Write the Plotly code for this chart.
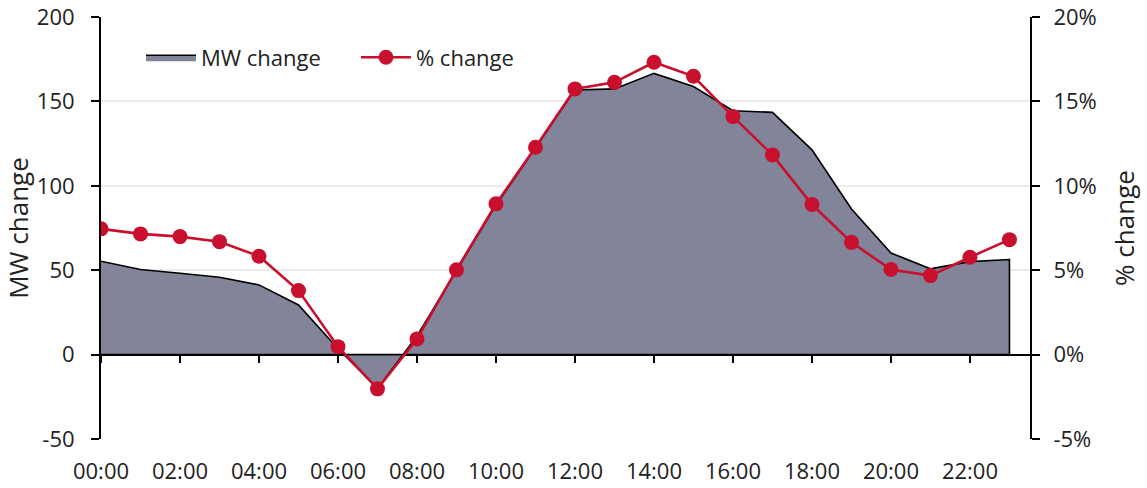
import plotly.graph_objects as go

# Hourly profile: change in demand (MW) and relative change (%)
hours = list(range(24))
hour_labels = [f"{h:02d}:00" for h in hours]
mw_change = [55.3, 50.4, 48.2, 45.8, 41.3, 29.4, 3.5, -20.0, 11.0, 49.5, 88.5, 122.5,
             156.8, 157.4, 166.6, 158.8, 144.5, 143.5, 121.3, 86.3, 60.2, 50.8, 55.1, 56.3]
pct_change = [7.45, 7.15, 6.99, 6.69, 5.83, 3.79, 0.47, -2.03, 0.93, 5.02, 8.93, 12.28,
              15.74, 16.13, 17.32, 16.49, 14.1, 11.83, 8.89, 6.65, 5.04, 4.68, 5.77, 6.81]
mw_ticks = [-50, 0, 50, 100, 150, 200]
mw_ticktext = ["-50", "0", "50", "100", "150", "200"]
pct_ticks = [-0.05, 0, 0.05, 0.1, 0.15, 0.2]
pct_ticktext = ["-5%", "0%", "5%", "10%", "15%", "20%"]

FONT = "Open Sans"
FSIZE = 22
TXT = "#222222"
AREA = "#82849A"
RED = "#C8102E"

# closed outline for the area so the right edge is stroked too
area_x = hours + [hours[-1], hours[0]]
area_y = mw_change + [0, 0]

fig = go.Figure()
fig.add_trace(go.Scatter(
    x=area_x, y=area_y, name="MW change", mode="lines",
    fill="toself", fillcolor=AREA,
    line=dict(color="black", width=1.6), hoverinfo="skip",
))
fig.add_trace(go.Scatter(
    x=hours, y=[p / 100 for p in pct_change], name="% change", yaxis="y2",
    mode="lines+markers",
    line=dict(color=RED, width=2.6),
    marker=dict(color=RED, size=15),
))
# carrier for the tick marks sitting on the zero line
fig.add_trace(go.Scatter(x=[0], y=[0], xaxis="x2", mode="markers",
                         marker=dict(opacity=0), showlegend=False, hoverinfo="skip"))

xrange = [0, 23.52]
fig.update_layout(
    width=1147, height=488,
    margin=dict(l=101, r=117, t=17, b=49, autoexpand=False),
    paper_bgcolor="white", plot_bgcolor="white",
    font=dict(family=FONT, size=FSIZE, color=TXT),
    showlegend=True,
    legend=dict(orientation="h", x=0.043, y=0.954, xanchor="left", yanchor="top",
                bgcolor="rgba(0,0,0,0)", font=dict(size=FSIZE, color=TXT),
                itemwidth=50, entrywidth=150, tracegroupgap=0),
    xaxis=dict(
        range=xrange, tickmode="array", tickvals=hours[::2], ticktext=hour_labels[::2],
        showgrid=False, zeroline=False, showline=False, automargin=False,
        ticks="outside", ticklen=13, tickcolor="rgba(0,0,0,0)",
    ),
    xaxis2=dict(
        range=xrange, overlaying="x", anchor="free", position=0.2, side="bottom",
        tickmode="array", tickvals=hours[::2], showticklabels=False,
        ticks="outside", ticklen=7, tickwidth=1.5, tickcolor="black",
        showgrid=False, zeroline=False, showline=False,
    ),
    yaxis=dict(
        range=[-50, 200], tickmode="array", tickvals=mw_ticks, ticktext=mw_ticktext,
        showgrid=True, gridcolor="#EBEBEB", gridwidth=1.5,
        zeroline=True, zerolinecolor="black", zerolinewidth=2,
        showline=True, linecolor="black", linewidth=2, automargin=True,
        ticks="outside", ticklen=8, tickwidth=2, tickcolor="black",
        ticklabelstandoff=12,
        title=dict(text="MW change", standoff=8),
    ),
    yaxis2=dict(
        range=[-0.05, 0.2], tickmode="array", tickvals=pct_ticks, ticktext=pct_ticktext,
        overlaying="y", side="right",
        showgrid=False, zeroline=False, automargin=False,
        showline=True, linecolor="black", linewidth=2,
        ticks="outside", ticklen=8, tickwidth=2, tickcolor="black",
        ticklabelstandoff=9,
        title=dict(text="% change", standoff=20),
    ),
)

fig.write_html("out.html")
